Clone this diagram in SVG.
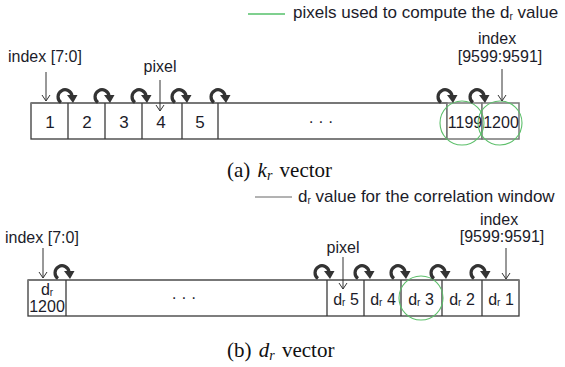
<svg xmlns="http://www.w3.org/2000/svg" xmlns:xlink="http://www.w3.org/1999/xlink" width="565" height="367" viewBox="0 0 565 367">
<defs>
<style>
.t{font-family:"Liberation Sans",Arial,sans-serif;font-size:16px;fill:#1c1c2a}
.c{text-anchor:middle}
.cap{font-family:"Liberation Serif","Times New Roman",serif;font-size:21px;fill:#111;word-spacing:2px}
.cell{fill:#fff;stroke:#3a3a3a;stroke-width:1.3}
.ptr{stroke:#333;stroke-width:1;fill:none}
.ring{fill:none;stroke:#5cbf6a;stroke-width:1.1}
.sub{font-size:10px}
.leg{font-size:17px}
</style>
<marker id="ah" viewBox="-8 -6 10 12" refX="0" refY="0" markerWidth="10" markerHeight="12" markerUnits="userSpaceOnUse" orient="auto">
<path d="M -6 -4 L 0 0 L -6 4" fill="none" stroke="#333" stroke-width="1"/>
</marker>
<g id="rot">
<path d="M 7 15.5 A 7 7 0 1 1 18 9" fill="none" stroke="#333" stroke-width="3.2"/>
<path d="M 13 8 L 23.5 8 L 19 16 Z" fill="#333"/>
</g>
</defs>
<rect width="565" height="367" fill="#fff"/>

<g id="legend-a">
<line x1="248" y1="14" x2="285" y2="14" stroke="#7fd08f" stroke-width="2"/>
<text class="t leg" x="293" y="18">pixels used to compute the d<tspan class="sub" dy="2">r</tspan><tspan dy="-2"> value</tspan></text>
</g>

<g id="vector-a">
<rect class="cell" x="31" y="103" width="416" height="36"/>
<line x1="31" y1="103" x2="447" y2="103" stroke="#777" stroke-width="2"/>
<line class="cell" x1="68" y1="103" x2="68" y2="139"/>
<line class="cell" x1="105" y1="103" x2="105" y2="139"/>
<line class="cell" x1="142" y1="103" x2="142" y2="139"/>
<line class="cell" x1="182" y1="103" x2="182" y2="139"/>
<line class="cell" x1="218" y1="103" x2="218" y2="139"/>
<rect x="447" y="103" width="35" height="36" fill="#fff" stroke="#777" stroke-width="1.5"/>
<rect x="482" y="103" width="37" height="36" fill="#fff" stroke="#777" stroke-width="1.5"/>
<text class="t c" x="50" y="128" style="font-size:17px">1</text>
<text class="t c" x="87" y="128" style="font-size:17px">2</text>
<text class="t c" x="124" y="128" style="font-size:17px">3</text>
<text class="t c" x="161" y="128" style="font-size:17px">4</text>
<text class="t c" x="200" y="128" style="font-size:17px">5</text>
<text class="t c" x="321" y="127">· · ·</text>
<text class="t c" x="465" y="128">1199</text>
<text class="t c" x="501" y="128">1200</text>
</g>

<g id="rings-a">
<circle class="ring" cx="462" cy="123" r="22"/>
<circle class="ring" cx="500" cy="123" r="22"/>
</g>

<g id="labels-a">
<text class="t" x="8" y="62">index [7:0]</text>
<text class="t c" x="160" y="72">pixel</text>
<text class="t c" x="497" y="44">index</text>
<text class="t c" x="500" y="62">[9599:9591]</text>
</g>

<g id="caption-a">
<text class="cap" x="227" y="177">(a) <tspan font-style="italic">k</tspan><tspan font-style="italic" font-size="14" dy="3">r</tspan><tspan dy="-3"> vector</tspan></text>
</g>

<g id="legend-b">
<line x1="255" y1="197" x2="292" y2="197" stroke="#666" stroke-width="1"/>
<text class="t leg" x="298" y="202">d<tspan class="sub" dy="2">r</tspan><tspan dy="-2"> value for the correlation window</tspan></text>
</g>

<g id="vector-b">
<rect class="cell" x="28" y="280" width="491" height="36"/>
<line x1="28" y1="280" x2="519" y2="280" stroke="#777" stroke-width="2"/>
<line class="cell" x1="66" y1="280" x2="66" y2="316"/>
<line class="cell" x1="327" y1="280" x2="327" y2="316"/>
<line class="cell" x1="364" y1="280" x2="364" y2="316"/>
<line class="cell" x1="401" y1="280" x2="401" y2="316"/>
<line class="cell" x1="442" y1="280" x2="442" y2="316"/>
<line class="cell" x1="482" y1="280" x2="482" y2="316"/>
<text class="t c" x="47" y="295">d<tspan class="sub" dy="1">r</tspan></text>
<text class="t c" x="47" y="312">1200</text>
<text class="t c" x="184" y="303">· · ·</text>
<text class="t c" x="346" y="305">d<tspan class="sub" dy="1">r</tspan><tspan dy="-1"> 5</tspan></text>
<text class="t c" x="383" y="305">d<tspan class="sub" dy="1">r</tspan><tspan dy="-1"> 4</tspan></text>
<text class="t c" x="421" y="305">d<tspan class="sub" dy="1">r</tspan><tspan dy="-1"> 3</tspan></text>
<text class="t c" x="462" y="305">d<tspan class="sub" dy="1">r</tspan><tspan dy="-1"> 2</tspan></text>
<text class="t c" x="501" y="305">d<tspan class="sub" dy="1">r</tspan><tspan dy="-1"> 1</tspan></text>
</g>

<g id="rings-b">
<circle class="ring" cx="421" cy="298" r="22"/>
</g>

<g id="labels-b">
<text class="t" x="5" y="243">index [7:0]</text>
<text class="t c" x="343" y="253">pixel</text>
<text class="t c" x="499" y="225">index</text>
<text class="t c" x="502" y="242">[9599:9591]</text>
</g>

<g id="caption-b">
<text class="cap" x="227" y="357">(b) <tspan font-style="italic">d</tspan><tspan font-style="italic" font-size="14" dy="3">r</tspan><tspan dy="-3"> vector</tspan></text>
</g>

<g id="connectors">
<line class="ptr" x1="46" y1="72" x2="46" y2="101" marker-end="url(#ah)"/>
<line class="ptr" x1="160" y1="80" x2="160" y2="111" marker-end="url(#ah)"/>
<line class="ptr" x1="502" y1="69" x2="502" y2="101" marker-end="url(#ah)"/>
<line class="ptr" x1="43" y1="248" x2="43" y2="278" marker-end="url(#ah)"/>
<line class="ptr" x1="343" y1="257" x2="343" y2="289" marker-end="url(#ah)"/>
<line class="ptr" x1="506" y1="248" x2="506" y2="279" marker-end="url(#ah)"/>
<use xlink:href="#rot" x="54" y="87"/>
<use xlink:href="#rot" x="91" y="87"/>
<use xlink:href="#rot" x="128" y="87"/>
<use xlink:href="#rot" x="168" y="87"/>
<use xlink:href="#rot" x="207" y="87"/>
<use xlink:href="#rot" x="434" y="87"/>
<use xlink:href="#rot" x="466" y="87"/>
<use xlink:href="#rot" x="51" y="263"/>
<use xlink:href="#rot" x="311" y="263"/>
<use xlink:href="#rot" x="351" y="263"/>
<use xlink:href="#rot" x="387" y="263"/>
<use xlink:href="#rot" x="427" y="263"/>
<use xlink:href="#rot" x="467" y="263"/>
</g>
</svg>
